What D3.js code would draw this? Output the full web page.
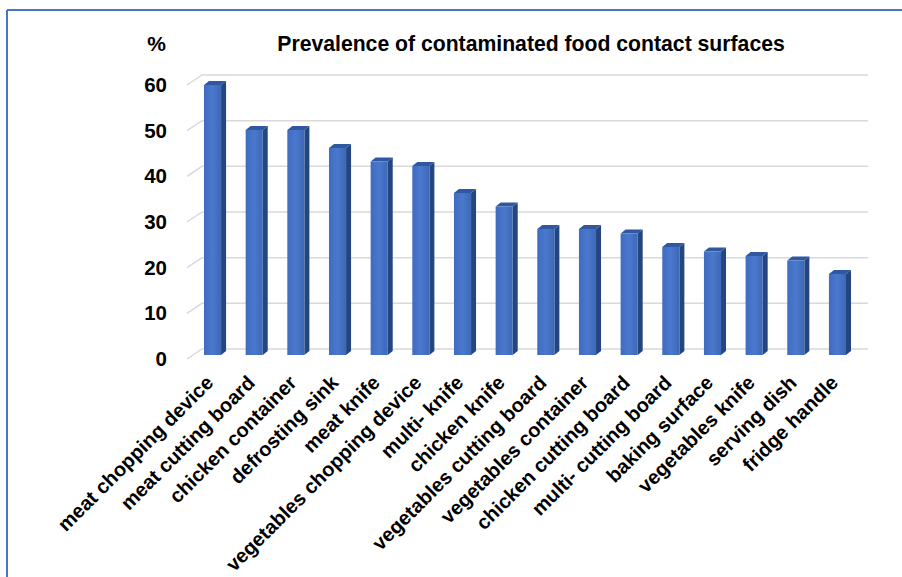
<!DOCTYPE html>
<html>
<head>
<meta charset="utf-8">
<script src="https://cdn.jsdelivr.net/npm/d3@7"></script>
<style>
  html, body { margin: 0; padding: 0; background: #fff; }
  svg { display: block; }
  text { font-family: "Liberation Sans", Arial, sans-serif; font-weight: bold; fill: #000; }
</style>
</head>
<body>
<svg id="chart" width="902" height="577"></svg>
<script>
const categories = [
  "meat chopping device", "meat cutting board", "chicken container", "defrosting sink",
  "meat knife", "vegetables chopping device", "multi- knife", "chicken knife",
  "vegetables cutting board", "vegetables container", "chicken cutting board",
  "multi- cutting board", "baking surface", "vegetables knife", "serving dish", "fridge handle"
];
const values = [60, 50, 50, 46, 43, 42, 36, 33, 28, 28, 27, 24, 23, 22, 21, 18];
const yTicks = [0, 10, 20, 30, 40, 50, 60];
const titleText = "Prevalence of contaminated food contact surfaces";
const yUnit = "%";

const svg = d3.select("#chart");

// frame lines (top and left)
svg.append("line").attr("x1", 7).attr("y1", 10).attr("x2", 902).attr("y2", 10)
  .attr("stroke", "#4a74c9").attr("stroke-width", 2);
svg.append("line").attr("x1", 7).attr("y1", 10).attr("x2", 7).attr("y2", 577)
  .attr("stroke", "#4a74c9").attr("stroke-width", 2);

// scales
const x = d3.scaleBand().domain(categories).range([191.7, 858.3])
  .paddingInner(0.59).paddingOuter(0.295);
const yBack = d3.scaleLinear().domain([0, 60]).range([349, 75]);
const yFront = d3.scaleLinear().domain([0, 60]).range([359, 85]);
const yBar = d3.scaleLinear().domain([0, 60]).range([355, 85]);

const depthX = 15, depthY = -10;      // floor depth
const bdx = 5, bdy = -4;              // bar depth

// gridlines (3D: diagonal from front-left, then horizontal on back wall)
const gx0 = 187, gx1 = 868;
const grid = svg.append("g");
yTicks.forEach(t => {
  const yb = yBack(t);
  grid.append("path")
    .attr("d", `M${gx0},${yb - depthY} L${gx0 + depthX},${yb} L${gx1},${yb}`)
    .attr("fill", "none").attr("stroke", "#d9d9d9").attr("stroke-width", 1.5);
});

// y axis labels via d3 axis
const yAxis = d3.axisLeft(yFront).tickValues(yTicks).tickSize(0).tickPadding(0);
const ax = svg.append("g").attr("transform", "translate(167,0)").call(yAxis);
ax.select(".domain").remove();
ax.selectAll("text").attr("font-size", 20.5).attr("font-weight", "bold")
  .attr("font-family", "'Liberation Sans', Arial, sans-serif").attr("fill", "#000");

// unit label and title
svg.append("text").attr("x", 166).attr("y", 51).attr("text-anchor", "end")
  .attr("font-size", 21).text(yUnit);
svg.append("text").attr("x", 531).attr("y", 51).attr("text-anchor", "middle")
  .attr("font-size", 21.2).text(titleText);

// gradient for front faces
const defs = svg.append("defs");
const grad = defs.append("linearGradient").attr("id", "front").attr("x1", 0).attr("x2", 1).attr("y1", 0).attr("y2", 0);
grad.append("stop").attr("offset", "0%").attr("stop-color", "#3f6cc0");
grad.append("stop").attr("offset", "50%").attr("stop-color", "#4a78cc");
grad.append("stop").attr("offset", "100%").attr("stop-color", "#3d68b8");

// bars
const bars = svg.append("g").selectAll("g").data(categories).join("g");
bars.each(function(c, i) {
  const g = d3.select(this);
  const x0 = x(c), w = x.bandwidth();
  const yt = yBar(values[i]), yb = yBar(0);
  // side face
  g.append("path")
    .attr("d", `M${x0 + w},${yt} L${x0 + w + bdx},${yt + bdy} L${x0 + w + bdx},${yb + bdy} L${x0 + w},${yb} Z`)
    .attr("fill", "#24467f");
  // top face
  g.append("path")
    .attr("d", `M${x0},${yt} L${x0 + bdx},${yt + bdy} L${x0 + w + bdx},${yt + bdy} L${x0 + w},${yt} Z`)
    .attr("fill", "#2f58a0");
  // front face
  g.append("rect").attr("x", x0).attr("y", yt).attr("width", w).attr("height", yb - yt)
    .attr("fill", "url(#front)");
});

// category labels
svg.append("g").selectAll("text").data(categories).join("text")
  .attr("transform", c => `translate(${x(c) + x.bandwidth() / 2 + 2},384) rotate(-45)`)
  .attr("text-anchor", "end")
  .attr("font-size", 20)
  .text(c => c);
</script>
</body>
</html>
